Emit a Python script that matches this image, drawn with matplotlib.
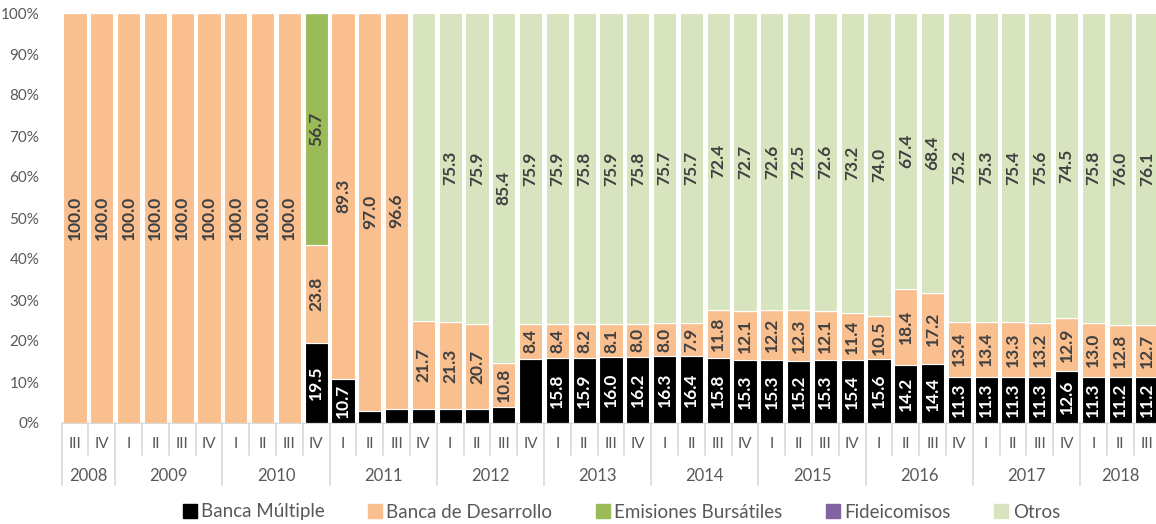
import numpy as np
import matplotlib
matplotlib.use("Agg")
import matplotlib.pyplot as plt
from matplotlib.lines import Line2D

# quarters 2008 III .. 2018 III
quarters = ["III", "IV"] + ["I", "II", "III", "IV"] * 9 + ["I", "II", "III"]
years = ["2008", "2009", "2010", "2011", "2012", "2013", "2014", "2015", "2016", "2017", "2018"]
year_counts = [2, 4, 4, 4, 4, 4, 4, 4, 4, 4, 3]

banca_multiple = [0] * 9 + [19.5, 10.7, 3.0, 3.4, 3.3, 3.4, 3.4, 3.8, 15.7,
                            15.8, 15.9, 16.0, 16.2, 16.3, 16.4, 15.8, 15.3, 15.3, 15.2, 15.3, 15.4,
                            15.6, 14.2, 14.4, 11.3, 11.3, 11.3, 11.3, 12.6, 11.3, 11.2, 11.2]
banca_desarrollo = [100.0] * 9 + [23.8, 89.3, 97.0, 96.6, 21.7, 21.3, 20.7, 10.8, 8.4,
                                  8.4, 8.2, 8.1, 8.0, 8.0, 7.9, 11.8, 12.1, 12.2, 12.3, 12.1, 11.4,
                                  10.5, 18.4, 17.2, 13.4, 13.4, 13.3, 13.2, 12.9, 13.0, 12.8, 12.7]
emisiones = [0] * 9 + [56.7] + [0] * 31
fideicomisos = [0] * 41
otros = [0] * 13 + [75.0, 75.3, 75.9, 85.4, 75.9,
                    75.9, 75.8, 75.9, 75.8, 75.7, 75.7, 72.4, 72.7, 72.6, 72.5, 72.6, 73.2,
                    74.0, 67.4, 68.4, 75.2, 75.3, 75.4, 75.6, 74.5, 75.8, 76.0, 76.1]

# bars whose value has no data label in the original
bm_hidden = {11, 12, 13, 14, 15, 16, 17}
otros_hidden = {13}

series = [
    ("Banca Múltiple", banca_multiple, "#000000", "white", bm_hidden),
    ("Banca de Desarrollo", banca_desarrollo, "#F9BF8F", "#404040", set()),
    ("Emisiones Bursátiles", emisiones, "#9BBB59", "#404040", set()),
    ("Fideicomisos", fideicomisos, "#8064A2", "#404040", set()),
    ("Otros", otros, "#D7E4BD", "#404040", otros_hidden),
]

plt.rcParams["font.family"] = ["Lato", "DejaVu Sans"]
grey = "#595959"
line_c = "#D9D9D9"

fig = plt.figure(figsize=(11.56, 5.24), dpi=100)
W, H = 1156, 524
ax_left, ax_right, ax_bot, ax_top = 61.6, 1160.4, 423, 13
ax = fig.add_axes([ax_left / W, (H - ax_bot) / H, (ax_right - ax_left) / W, (ax_bot - ax_top) / H])

n = len(quarters)
x = np.arange(n)
totals = np.sum([s[1] for s in series], axis=0)
bottom = np.zeros(n)
for name, vals, color, tcolor, hidden in series:
    vals = np.array(vals, dtype=float)
    h = vals / totals * 100
    ax.bar(x, h, bottom=bottom, width=0.86, color=color, edgecolor="white", linewidth=0.8, label=name)
    for i in range(n):
        if vals[i] > 0 and i not in hidden:
            ax.text(x[i], bottom[i] + h[i] / 2, f"{vals[i]:.1f}", rotation=90, ha="center", va="center",
                    fontsize=12.5, fontweight="bold", color=tcolor)
    bottom += h

ax.set_xlim(-0.5, n - 0.5)
ax.set_ylim(0, 100)
ax.set_yticks(np.arange(0, 101, 10))
ax.set_yticklabels([f"{v}%" for v in range(0, 101, 10)])
ax.tick_params(axis="y", length=0, pad=16, labelsize=11, labelcolor=grey)
ax.set_xticks([])
for s in ["top", "right", "left"]:
    ax.spines[s].set_visible(False)
ax.spines["bottom"].set_color(line_c)

# multi-level category axis
px = 1 / (ax_bot - ax_top)
trans = ax.get_xaxis_transform()
for i, q in enumerate(quarters):
    ax.text(i, -21 * px, q, ha="center", va="center", fontsize=11, color=grey, transform=trans)
start = 0
for yr, c in zip(years, year_counts):
    ax.text(start + (c - 1) / 2, -53 * px, yr, ha="center", va="center", fontsize=12, color=grey,
            transform=trans)
    start += c
year_edges = np.cumsum([0] + year_counts) - 0.5
for i in range(n + 1):
    xe = i - 0.5
    low = -62 * px if xe in year_edges else -32 * px
    ax.plot([xe, xe], [0, low], color=line_c, lw=1.2, transform=trans, clip_on=False)

handles = [Line2D([], [], marker="s", linestyle="", markersize=10, color=s[2]) for s in series]
fig.legend(handles, [s[0] for s in series], loc="center", bbox_to_anchor=(620 / W, (H - 512) / H),
           ncol=5, frameon=False, fontsize=13.5, handletextpad=0.1, columnspacing=2.2,
           handlelength=1.0, labelcolor=grey)

fig.savefig("out.png", dpi=100)
